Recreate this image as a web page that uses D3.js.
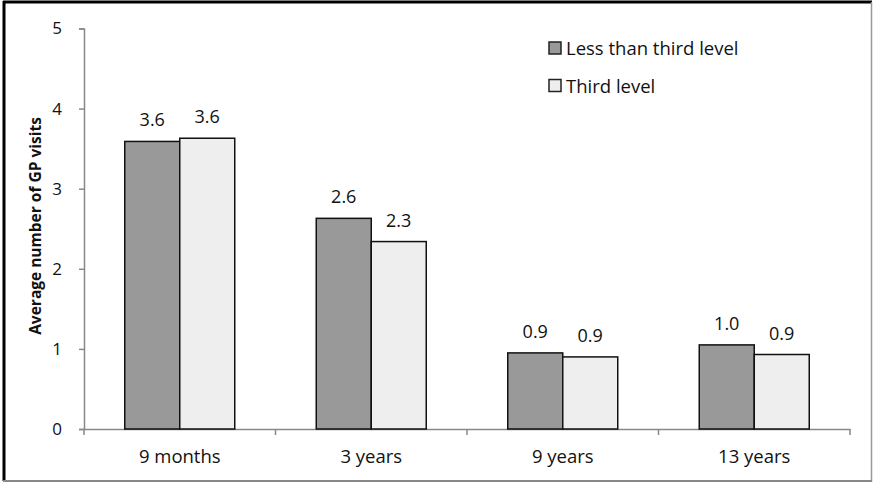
<!DOCTYPE html>
<html><head><meta charset="utf-8">
<script src="https://cdn.jsdelivr.net/npm/d3@7"></script>
<style>body{margin:0;background:#fff}svg{display:block}text{font-family:"Open Sans",Lato,sans-serif;fill:#111}</style>
</head><body><svg id="c" width="873" height="483"></svg>
<script>
const categories = ["9 months", "3 years", "9 years", "13 years"];
const seriesNames = ["Less than third level", "Third level"];
const lessThanThird = [3.59, 2.63, 0.95, 1.05];
const thirdLevel = [3.63, 2.34, 0.90, 0.93];
const valueLabels = [["3.6","2.6","0.9","1.0"],["3.6","2.3","0.9","0.9"]];
const yTicks = [0,1,2,3,4,5];
const colors = ["#999999", "#eeeeee"];

const svg = d3.select("#c");
// frame
svg.append("line").attr("x1",4).attr("x2",4).attr("y1",1).attr("y2",481).attr("stroke","#000").attr("stroke-width",3);
svg.append("line").attr("x1",3).attr("x2",872).attr("y1",2).attr("y2",2).attr("stroke","#000").attr("stroke-width",3);
svg.append("line").attr("x1",871.5).attr("x2",871.5).attr("y1",2).attr("y2",482).attr("stroke","#999").attr("stroke-width",1.5);
svg.append("line").attr("x1",3).attr("x2",872).attr("y1",481).attr("y2",481).attr("stroke","#888").attr("stroke-width",2);

const x0 = 84, x1 = 850, yTop = 28.5, yBot = 429;
const x = d3.scaleBand().domain(categories).range([x0, x1]).paddingInner(0.4256).paddingOuter(0.2128);
const xs = d3.scaleBand().domain([0,1]).range([0, x.bandwidth()]);
const y = d3.scaleLinear().domain([0,5]).range([yBot, yTop]);

// y axis
const ya = svg.append("g").attr("transform",`translate(${x0},0)`)
  .call(d3.axisLeft(y).tickValues(yTicks).tickSize(5).tickPadding(17).tickFormat(d3.format("d")));
ya.select(".domain").attr("stroke","#888").attr("stroke-width",1.5);
ya.selectAll(".tick line").attr("stroke","#888").attr("stroke-width",1.5);
ya.selectAll(".tick text").style("font-size","17px").attr("fill","#111");

// x axis
const xa = svg.append("g").attr("transform",`translate(0,${yBot})`)
  .call(d3.axisBottom(x).tickSize(0).tickPadding(21));
xa.select(".domain").attr("stroke","#888").attr("stroke-width",1.5);
xa.selectAll(".tick text").style("font-size","18.5px").attr("fill","#111");
const bounds = [0,1,2,3,4].map(i => x0 + i*x.step());
xa.selectAll("line.bt").data(bounds).join("line").attr("class","bt")
  .attr("x1",d=>d).attr("x2",d=>d).attr("y1",0).attr("y2",6).attr("stroke","#888").attr("stroke-width",1.5);

// bars
const series = [lessThanThird, thirdLevel];
series.forEach((vals, si) => {
  const g = svg.append("g");
  g.selectAll("rect").data(vals).join("rect")
    .attr("x",(d,i)=>x(categories[i]) + xs(si))
    .attr("y",d=>y(d))
    .attr("width",xs.bandwidth())
    .attr("height",d=>yBot - y(d))
    .attr("fill",colors[si]).attr("stroke","#111").attr("stroke-width",1.5);
  g.selectAll("text").data(vals).join("text")
    .attr("x",(d,i)=>x(categories[i]) + xs(si) + xs.bandwidth()/2)
    .attr("y",d=>y(d) - 15)
    .attr("text-anchor","middle").style("font-size","18px")
    .text((d,i)=>valueLabels[si][i]);
});

// y title
svg.append("text").attr("transform","translate(41,226) rotate(-90)")
  .attr("text-anchor","middle").style("font-size","15.5px").style("font-weight","bold")
  .text("Average number of GP visits");

// legend
const leg = svg.append("g");
seriesNames.forEach((n, i) => {
  const ly = 42 + i*37.5;
  leg.append("rect").attr("x",549).attr("y",ly).attr("width",12).attr("height",12)
    .attr("fill",colors[i]).attr("stroke","#222").attr("stroke-width",1.5);
  leg.append("text").attr("x",566).attr("y",ly+13).style("font-size","18.5px").text(n);
});
</script></body></html>
